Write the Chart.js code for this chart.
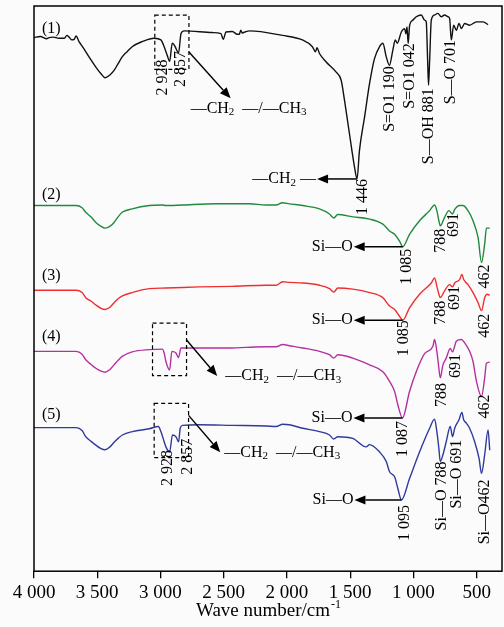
<!DOCTYPE html>
<html>
<head>
<meta charset="utf-8">
<script src="https://cdn.jsdelivr.net/npm/chart.js@4.4.1/dist/chart.umd.min.js"></script>
<style>
  html, body { margin: 0; padding: 0; background: #fbfbfb; }
  #wrap { width: 504px; height: 627px; }
</style>
</head>
<body>
<div id="wrap"><canvas id="c" width="504" height="627"></canvas></div>
<script>
// FTIR spectra: wavenumber (cm-1) and relative transmittance, curves stacked (1)..(5)
const wave1 = [4000,3950,3900,3881,3850,3802,3760,3740,3723,3700,3683,3667,3644,3610,3565,3511,3470,3438,3400,3367,3335,3303,3260,3224,3145,3050,2997,2971,2947,2928,2907,2886,2878,2857,2838,2812,2591,2522,2504,2482,2432,2393,2377,2365,2353,2345,2298,2036,1878,1799,1775,1762,1743,1690,1611,1572,1545,1506,1466,1446,1427,1387,1347,1308,1268,1242,1215,1190,1163,1144,1128,1096,1070,1060,1051,1042,1030,1005,978,938,912,899,888,881,872,859,833,807,780,754,728,714,701,682,661,640,621,595,556,502,449,410];
const trans1 = [94.4,94.6,94.2,94.4,94.5,94.3,94.3,94.8,94.5,94.0,94.1,94.7,93.7,92.6,91.0,89.2,88.0,87.3,87.8,88.6,89.8,91.0,92.0,92.8,93.7,94.3,94.0,92.8,91.3,90.2,93.4,92.9,92.5,91.7,95.1,95.6,95.3,95.1,94.1,95.4,95.5,95.0,95.0,95.7,95.2,95.3,95.6,94.8,94.0,92.8,91.9,92.6,91.6,90.1,88.3,86.9,83.3,77.4,71.5,69.4,74.4,80.3,86.3,90.7,92.8,93.4,91.0,89.5,92.2,94.0,93.4,95.4,96.0,95.1,96.3,93.4,96.6,97.5,98.1,98.4,97.5,97.2,90.4,86.0,90.4,97.5,98.4,98.7,98.1,98.4,98.1,97.8,94.0,96.6,95.7,96.9,96.0,96.9,96.6,97.2,97.2,96.7];

const wave2 = [4000,3802,3667,3620,3591,3550,3511,3470,3438,3400,3367,3335,3303,3224,3089,2987,2957,2828,2561,2298,2165,2086,2036,1981,1876,1743,1664,1630,1598,1480,1347,1242,1189,1149,1110,1085,1031,952,872,833,815,799,788,754,720,691,674,635,609,569,529,489,462,437,423,397];
const trans2 = [64.7,64.7,64.7,64.3,63.5,62.7,61.7,61.0,60.7,61.0,61.7,62.7,63.5,64.1,64.7,64.8,64.7,64.8,65.0,65.0,64.8,64.8,65.2,65.0,64.7,64.1,63.2,62.5,63.1,62.7,62.3,61.4,60.2,59.6,58.4,57.4,59.6,62.0,63.8,64.8,63.8,62.0,61.1,62.6,63.8,63.2,64.0,64.7,64.7,63.8,62.0,59.0,54.6,57.9,60.7,60.7];

const wave3 = [4000,3802,3667,3620,3591,3550,3511,3470,3438,3400,3367,3335,3301,3222,3089,2957,2694,2432,2165,2086,2034,1981,1876,1743,1664,1630,1598,1480,1347,1242,1189,1149,1110,1085,1031,952,859,833,815,799,788,754,714,691,674,635,617,603,569,529,489,462,437,418,397];
const trans3 = [49.7,49.7,49.7,49.3,48.4,47.8,47.1,46.5,46.3,46.7,47.5,48.2,48.7,49.3,50.0,50.1,50.3,50.4,50.6,50.6,51.2,51.1,51.0,50.6,50.0,49.4,50.1,49.9,49.3,48.4,46.9,46.3,45.1,44.4,46.6,49.0,51.0,51.9,50.4,49.0,48.4,49.6,50.7,50.3,51.0,51.6,52.5,51.6,50.7,49.3,47.5,46.1,48.4,49.0,48.8];

const wave4 = [4000,3802,3667,3620,3591,3550,3511,3470,3438,3400,3367,3335,3303,3224,3089,2985,2971,2957,2928,2910,2878,2857,2838,2694,2432,2324,2165,2086,2034,1981,1876,1743,1664,1630,1598,1480,1347,1242,1189,1149,1123,1087,1031,978,912,846,833,815,805,788,767,741,709,691,661,621,595,556,529,502,462,437,423,397];
const trans4 = [38.9,38.9,38.9,38.4,37.4,36.6,35.9,35.4,35.2,35.7,36.5,37.3,38.0,38.8,39.2,39.3,38.6,37.1,35.6,38.9,38.6,37.8,39.5,39.5,39.5,39.6,39.7,39.7,40.1,39.9,39.5,38.9,38.3,37.7,38.3,37.7,36.5,35.3,33.6,31.8,29.4,27.1,31.8,35.3,38.5,39.8,41.0,38.9,37.1,34.2,36.5,37.7,39.4,38.8,40.7,41.0,40.4,38.9,37.1,33.6,30.9,34.2,36.8,37.0];

const wave5 = [4000,3802,3667,3620,3591,3550,3511,3470,3438,3400,3367,3335,3301,3222,3089,3016,2997,2979,2957,2928,2905,2878,2857,2844,2826,2694,2430,2165,2086,2034,1981,1876,1743,1664,1630,1598,1480,1374,1347,1268,1215,1189,1149,1123,1095,1031,952,872,833,815,799,788,767,741,709,691,674,640,617,603,582,556,516,481,462,437,410,397];
const trans5 = [25.4,25.4,25.4,24.9,23.8,23.0,22.3,21.7,21.5,22.0,22.8,23.5,24.1,24.7,25.2,25.6,24.7,23.5,22.0,21.1,24.1,23.8,22.9,25.3,25.8,25.9,25.8,25.7,25.6,26.0,25.9,25.3,24.7,24.1,23.4,23.8,23.5,22.0,22.4,21.1,19.4,17.6,16.7,14.6,12.6,16.4,21.1,25.3,26.9,24.7,21.7,19.4,20.6,22.9,25.6,23.8,25.3,26.8,28.1,26.8,26.2,25.3,22.9,19.9,17.3,20.6,25.0,21.4];

const seriesNames = ['(1)', '(2)', '(3)', '(4)', '(5)'];
const seriesColors = ['#111111', '#1f8a3c', '#ef2f2f', '#b5309f', '#2f3a9c'];

const tickValues = [4000, 3500, 3000, 2500, 2000, 1500, 1000, 500];
const tickLabels = ['4 000', '3 500', '3 000', '2 500', '2 000', '1 500', '1 000', '500'];
const axisTitle = 'Wave number/cm';
const axisTitleSup = '-1';

// band assignments written beside each curve's minima
const peaks1 = [2928, 2857, 1446, 1190, 1042, 881, 701];
const peakText1 = ['2 928', '2 857', '1 446', 'S=O1 190', 'S=O1 042', 'S\u2014OH 881', 'S\u2014O 701'];
const peaks2 = [1085, 788, 691, 462];
const peakText2 = ['1 085', '788', '691', '462'];
const peaks3 = [1085, 788, 691, 462];
const peakText3 = ['1 085', '788', '691', '462'];
const peaks4 = [1087, 788, 691, 462];
const peakText4 = ['1 087', '788', '691', '462'];
const peaks5 = [2928, 2857, 1095, 788, 691, 462];
const peakText5 = ['2 928', '2 857', '1 095', 'Si\u2014O 788', 'Si\u2014O 691', 'Si\u2014O462'];

const waves = [wave1, wave2, wave3, wave4, wave5];
const trans = [trans1, trans2, trans3, trans4, trans5];
const peakW = [peaks1, peaks2, peaks3, peaks4, peaks5];
const peakT = [peakText1, peakText2, peakText3, peakText4, peakText5];

// pixel nudges for the rotated labels (x centre, top) relative to each minimum
const labelNudge = [
  [[-7,-2],[2,-2],[6,0],[0,1],[2,0],[0,3],[0,0]],
  [[4,2],[1,3],[1,-1],[3,2]],
  [[1,0],[1,3],[2,-1],[3,3]],
  [[0,3],[2,5],[3,2],[3,-2]],
  [[-2,-2],[9,-3],[3,5],[2,0],[4,3],[3,6]]
];
const nameOffset = [-9, -11, -14, -15, -12.5];

// horizontal arrows pointing at the main band of each curve
const arrowNotes = [
  {s: 0, w: 1446, text: '\u2014CH\u2082 \u2014', len: 40},
  {s: 1, w: 1085, text: 'Si\u2014O', len: 49},
  {s: 2, w: 1085, text: 'Si\u2014O', len: 49},
  {s: 3, w: 1087, text: 'Si\u2014O', len: 49},
  {s: 4, w: 1095, text: 'Si\u2014O', len: 47}
];

// dashed frames round the C-H stretching region
const boxes = [
  {w1: 3045, w2: 2775, v1: 98.4, v2: 88.8, start: 37, adx: 41.7, ady: 46.3, lx: -40, ly: 10},
  {w1: 3063, w2: 2794, v1: 43.9, v2: 34.6, start: 17, adx: 30.7, ady: 36, lx: 8, ly: 0},
  {w1: 3050, w2: 2778, v1: 29.7, v2: 20.1, start: 12, adx: 31.7, ady: 37, lx: 4, ly: 0}
];

const SERIF = '"Liberation Serif", "Times New Roman", "DejaVu Serif", serif';

function valueAt(s, w) {
  const i = waves[s].indexOf(w);
  return trans[s][i];
}

function drawArrow(ctx, x1, y1, x2, y2) {
  const ang = Math.atan2(y2 - y1, x2 - x1);
  const hl = 11, hw = 4.5;
  const bx = x2 - hl * Math.cos(ang), by = y2 - hl * Math.sin(ang);
  ctx.beginPath();
  ctx.moveTo(x1, y1);
  ctx.lineTo(bx, by);
  ctx.stroke();
  ctx.beginPath();
  ctx.moveTo(x2, y2);
  ctx.lineTo(bx + hw * Math.sin(ang), by - hw * Math.cos(ang));
  ctx.lineTo(bx - hw * Math.sin(ang), by + hw * Math.cos(ang));
  ctx.closePath();
  ctx.fill();
}

// text with chemical subscripts, e.g. CH2 -> CH with a lowered 2
function richParts(text) {
  const parts = [];
  for (const ch of text) {
    const code = ch.codePointAt(0);
    const sub = code >= 0x2080 && code <= 0x2089;
    const c = sub ? String.fromCharCode(48 + code - 0x2080) : ch;
    if (parts.length && parts[parts.length - 1].sub === sub) parts[parts.length - 1].t += c;
    else parts.push({t: c, sub});
  }
  return parts;
}
function richWidth(ctx, parts) {
  let w = 0;
  for (const p of parts) {
    ctx.font = (p.sub ? '11px ' : '16px ') + SERIF;
    w += ctx.measureText(p.t).width;
  }
  return w;
}
function drawRich(ctx, text, x, y, align) {
  const parts = richParts(text);
  let cx = align === 'right' ? x - richWidth(ctx, parts) : x;
  ctx.textAlign = 'left';
  ctx.textBaseline = 'middle';
  for (const p of parts) {
    ctx.font = (p.sub ? '11px ' : '16px ') + SERIF;
    ctx.fillText(p.t, cx, y + (p.sub ? 4 : 0));
    cx += ctx.measureText(p.t).width;
  }
}

const notesPlugin = {
  id: 'notes',
  afterDatasetsDraw(chart) {
    const {ctx, chartArea: a, scales: {x, y}} = chart;
    ctx.save();
    ctx.strokeStyle = '#000';
    ctx.fillStyle = '#000';
    ctx.lineWidth = 1.5;
    ctx.strokeRect(a.left, a.top, a.right - a.left, a.bottom - a.top);

    // axis title with superscript unit
    ctx.font = '19px ' + SERIF;
    const tw = ctx.measureText(axisTitle).width;
    ctx.font = '12px ' + SERIF;
    const sw = ctx.measureText(axisTitleSup).width;
    const tx0 = (a.left + a.right) / 2 - (tw + sw) / 2;
    ctx.textAlign = 'left';
    ctx.textBaseline = 'alphabetic';
    ctx.font = '19px ' + SERIF;
    ctx.fillText(axisTitle, tx0, a.bottom + 45);
    ctx.font = '12px ' + SERIF;
    ctx.fillText(axisTitleSup, tx0 + tw + 1, a.bottom + 37);

    // curve names
    for (let s = 0; s < 5; s++) {
      ctx.font = '16px ' + SERIF;
      ctx.textAlign = 'left';
      ctx.textBaseline = 'middle';
      ctx.fillText(seriesNames[s], a.left + 8, y.getPixelForValue(trans[s][0]) + nameOffset[s]);
    }

    // rotated band labels
    ctx.font = '16px ' + SERIF;
    for (let s = 0; s < 5; s++) {
      peakW[s].forEach((w, k) => {
        const px = x.getPixelForValue(w) + labelNudge[s][k][0];
        const py = y.getPixelForValue(valueAt(s, w)) + labelNudge[s][k][1];
        ctx.save();
        ctx.translate(px, py);
        ctx.rotate(-Math.PI / 2);
        ctx.textAlign = 'right';
        ctx.textBaseline = 'middle';
        ctx.fillText(peakT[s][k], 0, 0);
        ctx.restore();
      });
    }

    // arrows with group names
    ctx.lineWidth = 1.5;
    for (const n of arrowNotes) {
      const px = x.getPixelForValue(n.w);
      const py = y.getPixelForValue(valueAt(n.s, n.w));
      drawArrow(ctx, px, py, px - n.len, py);
      drawRich(ctx, n.text, px - n.len - 1, py, 'right');
    }

    // dashed frames and their arrows
    for (const b of boxes) {
      const x1 = x.getPixelForValue(b.w1), x2 = x.getPixelForValue(b.w2);
      const y1 = y.getPixelForValue(b.v1), y2 = y.getPixelForValue(b.v2);
      ctx.save();
      ctx.lineWidth = 1.2;
      ctx.setLineDash([4, 3]);
      ctx.strokeRect(x1, y1, x2 - x1, y2 - y1);
      ctx.restore();
      const sx = x2, sy = y1 + b.start;
      const tx = sx + b.adx, ty = sy + b.ady;
      ctx.lineWidth = 1.4;
      drawArrow(ctx, sx, sy, tx, ty);
      drawRich(ctx, '\u2014CH\u2082  \u2014/\u2014CH\u2083', tx + b.lx, ty + b.ly, 'left');
    }
    ctx.restore();
  }
};

const datasets = waves.map((w, s) => ({
  label: seriesNames[s],
  data: w.map((v, i) => ({x: v, y: trans[s][i]})),
  borderColor: seriesColors[s],
  borderWidth: 1.4,
  pointRadius: 0,
  fill: false,
  cubicInterpolationMode: 'monotone'
}));

new Chart(document.getElementById('c'), {
  type: 'line',
  data: {datasets},
  options: {
    responsive: false,
    animation: false,
    devicePixelRatio: 1,
    layout: {padding: {left: 34, right: 2, top: 6, bottom: 20}},
    plugins: {legend: {display: false}, tooltip: {enabled: false}},
    scales: {
      x: {
        type: 'linear',
        reverse: true,
        min: 300,
        max: 4000,
        afterBuildTicks: (scale) => { scale.ticks = tickValues.map(v => ({value: v})); },
        ticks: {
          autoSkip: false,
          maxRotation: 0,
          padding: 3,
          color: '#000',
          font: {family: SERIF, size: 19},
          callback: (v) => tickLabels[tickValues.indexOf(v)]
        },
        grid: {drawOnChartArea: false, drawTicks: true, tickLength: 7, color: '#000', lineWidth: 1.3},
        border: {display: false},
        title: {display: false}
      },
      y: {display: false, min: 0, max: 100}
    }
  },
  plugins: [notesPlugin]
});
</script>
</body>
</html>
